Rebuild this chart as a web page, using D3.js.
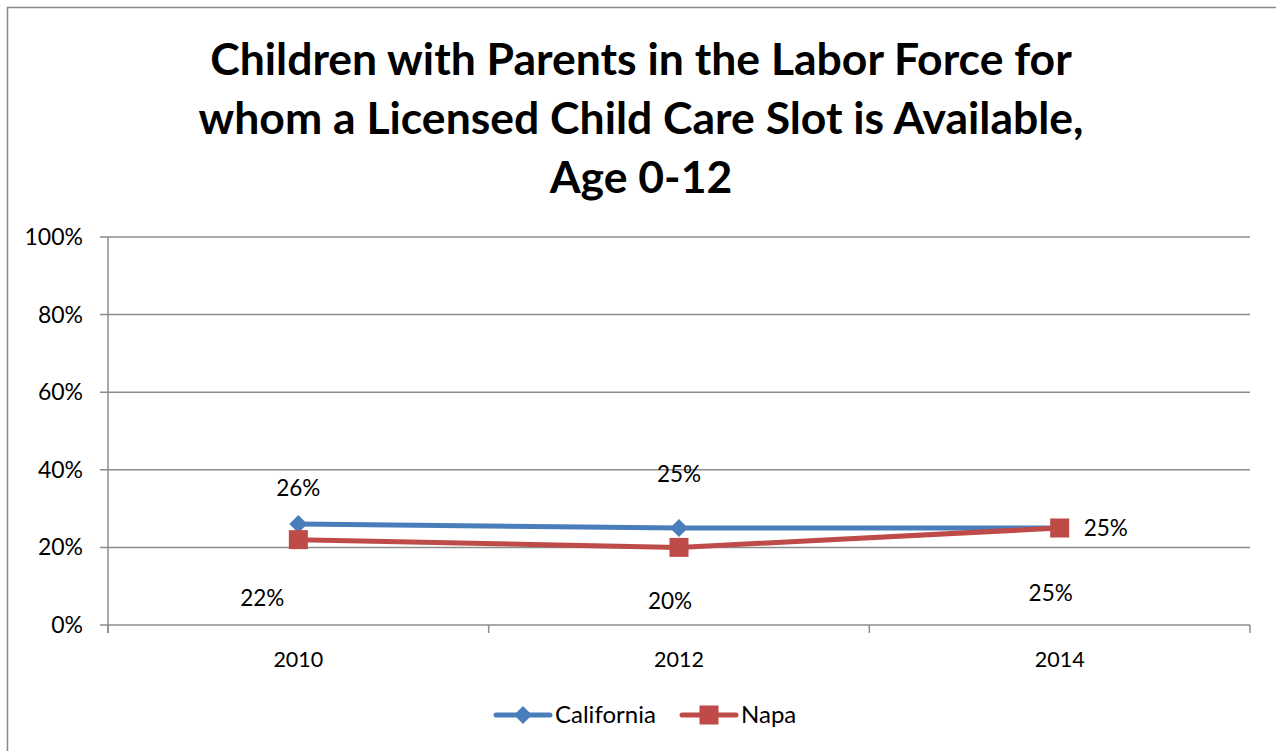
<!DOCTYPE html>
<html>
<head>
<meta charset="utf-8">
<script src="https://cdn.jsdelivr.net/npm/d3@7"></script>
<style>
  html, body { margin: 0; padding: 0; background: #fff; }
  svg { display: block; font-family: Lato, "Open Sans", sans-serif; }
</style>
</head>
<body>
<svg id="chart" width="1276" height="751"></svg>
<script>
// ---- data ----
const titleLines = ["Children with Parents in the Labor Force for",
                    "whom a Licensed Child Care Slot is Available,",
                    "Age 0-12"];
const categories = ["2010", "2012", "2014"];
const seriesNames = ["California", "Napa"];
const californiaValues = [0.26, 0.25, 0.25];
const napaValues = [0.22, 0.20, 0.25];
const yTickValues = [0, 0.2, 0.4, 0.6, 0.8, 1.0];

// ---- styling / layout ----
const colors = { California: "#4A7EBB", Napa: "#BE4B48" };
const margin = { left: 108, right: 1250, top: 237, bottom: 625 };
// label offsets (dx, dy relative to point, anchor) reproducing the original placement
const labelPlacement = {
  California: [[0, -28, "middle"], [0, -46, "middle"], [24, 8, "start"]],
  Napa: [[-36, 66, "middle"], [-9, 62, "middle"], [-9, 73, "middle"]]
};

const svg = d3.select("#chart");

// chart border
svg.append("rect").attr("x", 7.5).attr("y", 7.5).attr("width", 1300).attr("height", 800)
  .attr("fill", "none").attr("stroke", "#898989").attr("stroke-width", 1.5);

// title
const title = svg.append("text").attr("text-anchor", "middle")
  .attr("font-weight", "bold").attr("font-size", 44.5).attr("fill", "#000");
titleLines.forEach((t, i) => {
  title.append("tspan").attr("x", 641).attr("y", 75 + i * 59).text(t);
});

const x = d3.scaleBand().domain(categories).range([margin.left, margin.right]);
const y = d3.scaleLinear().domain([0, 1]).range([margin.bottom, margin.top]);

// gridlines
svg.append("g").selectAll("line").data(yTickValues).join("line")
  .attr("x1", margin.left - 8).attr("x2", margin.right)
  .attr("y1", d => y(d)).attr("y2", d => y(d))
  .attr("stroke", "#8c8c8c").attr("stroke-width", 1.5);

// y axis line
svg.append("line").attr("x1", margin.left).attr("x2", margin.left)
  .attr("y1", margin.top).attr("y2", margin.bottom + 8)
  .attr("stroke", "#8c8c8c").attr("stroke-width", 1.5);

// y tick labels
svg.append("g").selectAll("text").data(yTickValues).join("text")
  .attr("x", 83).attr("y", d => y(d) + 8).attr("text-anchor", "end")
  .attr("font-size", 23).attr("fill", "#000")
  .text(d => d3.format(".0%")(d));

// x axis ticks
const xTickPos = categories.map(c => x(c)).concat([margin.right]);
svg.append("g").selectAll("line").data(xTickPos).join("line")
  .attr("x1", d => d).attr("x2", d => d)
  .attr("y1", margin.bottom).attr("y2", margin.bottom + 8)
  .attr("stroke", "#8c8c8c").attr("stroke-width", 1.5);

svg.append("g").selectAll("text").data(categories).join("text")
  .attr("x", d => x(d) + x.bandwidth() / 2).attr("y", 667)
  .attr("text-anchor", "middle").attr("font-size", 21.5).attr("fill", "#000")
  .text(d => d);

const cx = c => x(c) + x.bandwidth() / 2;
const series = [
  { name: "California", values: californiaValues, marker: "diamond" },
  { name: "Napa", values: napaValues, marker: "square" }
];

const line = d3.line().x((d, i) => cx(categories[i])).y(d => y(d));

function drawMarker(g, type, px, py, color) {
  if (type === "diamond") {
    g.append("path")
      .attr("d", `M${px},${py - 9}L${px + 9},${py}L${px},${py + 9}L${px - 9},${py}Z`)
      .attr("fill", color);
  } else {
    g.append("rect").attr("x", px - 9.5).attr("y", py - 9.5)
      .attr("width", 19).attr("height", 19).attr("fill", color);
  }
}

series.forEach(s => {
  const g = svg.append("g");
  g.append("path").datum(s.values).attr("d", line)
    .attr("fill", "none").attr("stroke", colors[s.name]).attr("stroke-width", 5)
    .attr("stroke-linejoin", "round").attr("stroke-linecap", "round");
  s.values.forEach((v, i) => drawMarker(g, s.marker, cx(categories[i]), y(v), colors[s.name]));
});

// data labels
series.forEach(s => {
  s.values.forEach((v, i) => {
    const [dx, dy, anchor] = labelPlacement[s.name][i];
    svg.append("text").attr("x", cx(categories[i]) + dx).attr("y", y(v) + dy)
      .attr("text-anchor", anchor).attr("font-size", 22.5).attr("fill", "#000")
      .text(d3.format(".0%")(v));
  });
});

// legend
const legendItems = [
  { name: "California", marker: "diamond", x0: 496 },
  { name: "Napa", marker: "square", x0: 682 }
];
legendItems.forEach(it => {
  const g = svg.append("g");
  const ly = 715;
  g.append("line").attr("x1", it.x0).attr("x2", it.x0 + 54).attr("y1", ly).attr("y2", ly)
    .attr("stroke", colors[it.name]).attr("stroke-width", 5).attr("stroke-linecap", "round");
  drawMarker(g, it.marker, it.x0 + 27, ly, colors[it.name]);
  g.append("text").attr("x", it.x0 + 59).attr("y", ly + 8).attr("font-size", 24)
    .attr("fill", "#000").text(it.name);
});
</script>
</body>
</html>
